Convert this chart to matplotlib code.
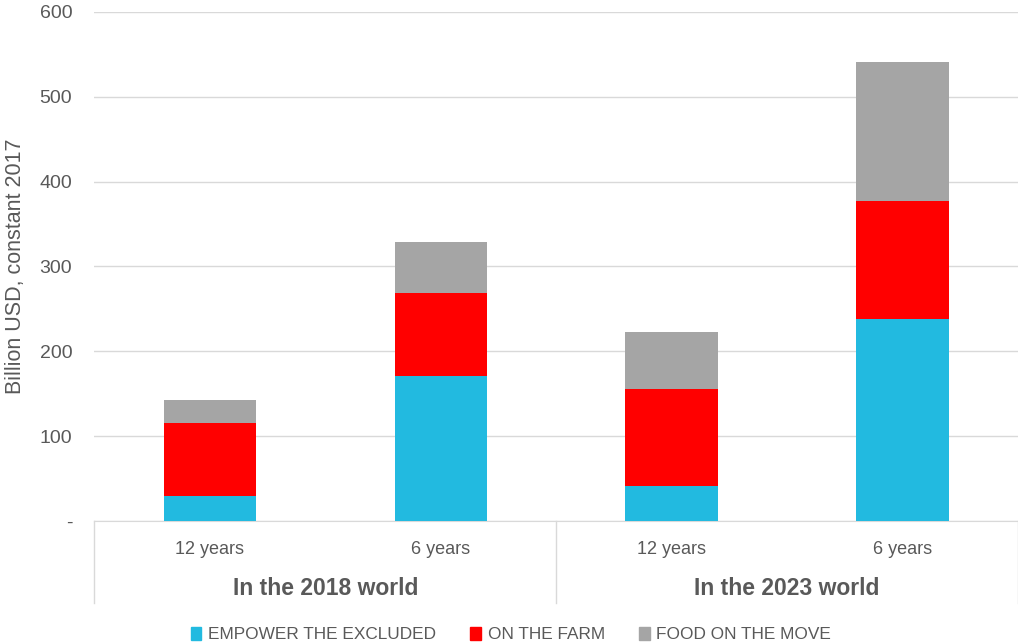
import matplotlib
matplotlib.use("Agg")
import matplotlib.pyplot as plt
from matplotlib.patches import Patch
import numpy as np

plt.rcParams['font.family'] = ['Liberation Sans', 'DejaVu Sans']

# Данные
categories = ["12 years", "6 years", "12 years", "6 years"]
groups = ["In the 2018 world", "In the 2023 world"]
empower = [29.5, 171, 41.6, 238]
on_farm = [86.4, 98, 114.4, 139]
food_move = [26.8, 60, 66.5, 164]
series_names = ["EMPOWER THE EXCLUDED", "ON THE FARM", "FOOD ON THE MOVE"]
yticks = [0, 100, 200, 300, 400, 500, 600]
ytick_labels = ["-", "100", "200", "300", "400", "500", "600"]

colors = ["#22BAE0", "#FF0000", "#A5A5A5"]
text_col = "#595959"
line_col = "#D9D9D9"

fig = plt.figure(figsize=(10.18, 6.44), dpi=100)
ax = fig.add_axes([0.0928, 0.191, 0.9072, 0.7904])

x = np.arange(len(categories))
bottom = np.zeros(len(categories))
for vals, c in zip([empower, on_farm, food_move], colors):
    ax.bar(x, vals, width=0.4, bottom=bottom, color=c, zorder=3)
    bottom += np.array(vals)

ax.set_xlim(-0.5, len(categories) - 0.5)
ax.set_ylim(0, 600)
ax.set_yticks(yticks)
ax.set_yticklabels(ytick_labels, color=text_col, fontsize=14)
ax.tick_params(axis='y', length=0, pad=16)
ax.set_xticks([])
ax.grid(axis='y', color=line_col, linewidth=1, zorder=0)
for s in ["left", "right", "top"]:
    ax.spines[s].set_visible(False)
ax.spines["bottom"].set_color(line_col)

ax.set_ylabel("Billion USD, constant 2017", color=text_col, fontsize=15.5, labelpad=10)

# Подписи категорий и групп под осью
tr = ax.get_xaxis_transform()
for xi, lab in zip(x, categories):
    ax.text(xi, -0.056, lab, transform=tr, ha='center', va='center',
            color=text_col, fontsize=13)
for gi, g in enumerate(groups):
    ax.text(gi * 2 + 0.5, -0.132, g, transform=tr, ha='center', va='center',
            color=text_col, fontsize=16.5, fontweight='bold')
for xs in [-0.5, 1.5, 3.5]:
    ax.plot([xs, xs], [0, -0.161], transform=tr, color=line_col,
            linewidth=1, clip_on=False)

handles = [Patch(color=c) for c in colors]
fig.legend(handles, series_names, loc='center', bbox_to_anchor=(0.502, 0.015),
           ncol=3, frameon=False, fontsize=12.4, handlelength=0.6, handleheight=0.8,
           handletextpad=0.4, columnspacing=2.0, labelcolor=text_col)

fig.savefig("out.png", dpi=100)
